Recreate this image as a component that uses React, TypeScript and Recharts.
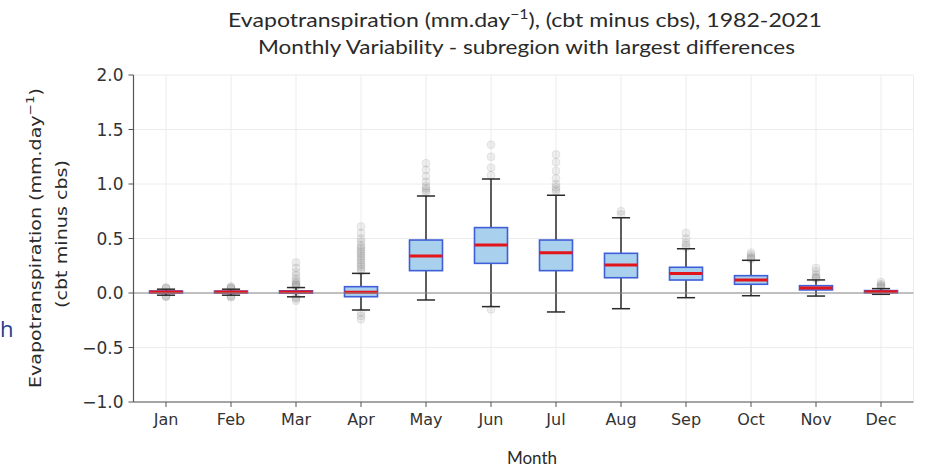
import React from "react";
import {
  ComposedChart,
  Bar,
  XAxis,
  YAxis,
  CartesianGrid,
  ReferenceLine,
} from "recharts";

const months = ["Jan", "Feb", "Mar", "Apr", "May", "Jun", "Jul", "Aug", "Sep", "Oct", "Nov", "Dec"];
const whiskerLow = [-0.02, -0.02, -0.035, -0.156, -0.064, -0.125, -0.174, -0.144, -0.043, -0.025, -0.028, -0.012];
const q1 = [0.0, 0.0, -0.002, -0.034, 0.205, 0.272, 0.205, 0.14, 0.119, 0.08, 0.028, 0.002];
const median = [0.01, 0.009, 0.01, 0.006, 0.34, 0.44, 0.37, 0.257, 0.18, 0.119, 0.045, 0.012];
const q3 = [0.018, 0.017, 0.02, 0.058, 0.486, 0.6, 0.486, 0.364, 0.236, 0.159, 0.067, 0.022];
const whiskerHigh = [0.035, 0.035, 0.05, 0.18, 0.89, 1.046, 0.896, 0.69, 0.406, 0.3, 0.12, 0.04];
const outliers: number[][] = [
  [0.04, 0.045, 0.05, -0.025, -0.03, -0.035],
  [0.04, 0.045, 0.05, 0.06, -0.025, -0.03, -0.04],
  [0.06, 0.07, 0.08, 0.09, 0.11, 0.13, 0.16, 0.19, 0.23, 0.28, -0.04, -0.05, -0.07],
  [0.2, 0.22, 0.24, 0.26, 0.28, 0.3, 0.32, 0.34, 0.36, 0.38, 0.4, 0.42, 0.44, 0.47, 0.5, 0.55, 0.61, -0.18, -0.21, -0.24],
  [0.92, 0.94, 0.96, 0.98, 1.02, 1.07, 1.13, 1.19],
  [1.08, 1.15, 1.25, 1.36, -0.15],
  [0.93, 0.95, 0.97, 1.0, 1.05, 1.12, 1.2, 1.27],
  [0.72, 0.75],
  [0.42, 0.44, 0.46, 0.5, 0.55],
  [0.31, 0.32, 0.33, 0.35, 0.37],
  [0.13, 0.14, 0.15, 0.17, 0.2, 0.23],
  [0.05, 0.06, 0.07, 0.08, 0.1],
];
const yTicks = [-1, -0.5, 0, 0.5, 1, 1.5, 2];
const titleLine1 = "Evapotranspiration (mm.day";
const titleSup = "−1";
const titleLine1End = "), (cbt minus cbs), 1982-2021";
const titleLine2 = "Monthly Variability - subregion with largest differences";
const yLabel1 = "Evapotranspiration (mm.day";
const yLabel1End = ")";
const yLabel2 = "(cbt minus cbs)";
const xLabel = "Month";
const strayText = "h";

const data = months.map((m, i) => ({
  month: m,
  lo: whiskerLow[i],
  q1: q1[i],
  med: median[i],
  q3: q3[i],
  hi: whiskerHigh[i],
  out: outliers[i],
}));

const FONT = "'DejaVu Sans', sans-serif";
const TITLE_FONT = "Lato, 'Open Sans', sans-serif";

const BoxShape = (props: any) => {
  const { x, y, width, height, payload } = props;
  if (!payload) return null;
  const top = Math.min(y, y + height);
  const h = Math.abs(height);
  const ppu = h / (payload.hi - payload.lo);
  const py = (v: number) => top + (payload.hi - v) * ppu;
  const cx = x + width / 2;
  const capW = width * 0.55;
  return (
    <g>
      {payload.out.map((v: number, k: number) => (
        <circle key={k} cx={cx} cy={py(v)} r={4} fill="#555" fillOpacity={0.1} stroke="#555" strokeOpacity={0.1} />
      ))}
      <line x1={cx} x2={cx} y1={py(payload.hi)} y2={py(payload.q3)} stroke="#2a2a2a" strokeWidth={1.5} />
      <line x1={cx} x2={cx} y1={py(payload.q1)} y2={py(payload.lo)} stroke="#2a2a2a" strokeWidth={1.5} />
      <line x1={cx - capW / 2} x2={cx + capW / 2} y1={py(payload.hi)} y2={py(payload.hi)} stroke="#2a2a2a" strokeWidth={1.5} />
      <line x1={cx - capW / 2} x2={cx + capW / 2} y1={py(payload.lo)} y2={py(payload.lo)} stroke="#2a2a2a" strokeWidth={1.5} />
      <rect
        x={x}
        y={py(payload.q3)}
        width={width}
        height={Math.max(py(payload.q1) - py(payload.q3), 0.5)}
        fill="#a9d1ee"
        stroke="#3f5fd8"
        strokeWidth={1.6}
      />
      <line x1={x} x2={x + width} y1={py(payload.med)} y2={py(payload.med)} stroke="#e3151c" strokeWidth={3} />
    </g>
  );
};

export default function App() {
  return (
    <div style={{ position: "absolute", left: 0, top: 0, width: 925, height: 468, background: "#fff" }}>
      <ComposedChart
        width={925}
        height={468}
        data={data}
        margin={{ top: 75, right: 11.5, bottom: 36, left: 0 }}
        barSize={33}
      >
        <CartesianGrid xAxisId="bottom" yAxisId="left" stroke="#ececec" strokeWidth={1} />
        <XAxis
          xAxisId="bottom"
          dataKey="month"
          height={30}
          tickSize={5}
          tickMargin={7}
          stroke="#555"
          tick={{ fill: "#333", fontSize: 16, fontFamily: FONT }}
          tickLine={{ stroke: "#555" }}
          axisLine={{ stroke: "#555", strokeWidth: 1.2 }}
        />
        <XAxis xAxisId="top" dataKey="month" orientation="top" height={0} tick={false} tickLine={false} axisLine={{ stroke: "#555", strokeWidth: 1.2 }} />
        <YAxis
          yAxisId="left"
          width={133.5}
          domain={[-1, 2]}
          ticks={yTicks}
          allowDataOverflow
          tickSize={5}
          tickMargin={5}
          tickFormatter={(v: number) => (v < 0 ? "−" : "") + Math.abs(v).toFixed(1)}
          tick={{ fill: "#333", fontSize: 17, fontFamily: FONT }}
          tickLine={{ stroke: "#555" }}
          axisLine={{ stroke: "#555", strokeWidth: 1.2 }}
        />
        <YAxis yAxisId="right" orientation="right" width={0} domain={[-1, 2]} tick={false} tickLine={false} axisLine={{ stroke: "#555", strokeWidth: 1.2 }} />
        <ReferenceLine xAxisId="bottom" yAxisId="left" y={0} stroke="#8a8a8a" strokeWidth={1.2} />
        <Bar
          xAxisId="bottom"
          yAxisId="left"
          dataKey={(d: any) => [d.lo, d.hi]}
          shape={BoxShape}
          isAnimationActive={false}
        />
      </ComposedChart>
      <svg width={925} height={468} style={{ position: "absolute", left: 0, top: 0, pointerEvents: "none" }}>
        <g fill="#2a2a2a">
          <text x={228} y={27} fontSize={19} fontFamily={TITLE_FONT} textLength={594} lengthAdjust="spacingAndGlyphs">
            {titleLine1}
            <tspan dy={-8} fontSize={13}>{titleSup}</tspan>
            <tspan dy={8}>{titleLine1End}</tspan>
          </text>
          <text x={258} y={54} fontSize={19} fontFamily={TITLE_FONT} textLength={537} lengthAdjust="spacingAndGlyphs">{titleLine2}</text>
          <text x={532} y={464} fontSize={17} fontFamily={TITLE_FONT} textAnchor="middle">{xLabel}</text>
          <text transform="translate(41,388) rotate(-90)" fontSize={15.5} fontFamily={FONT} textLength={300} lengthAdjust="spacingAndGlyphs">
            {yLabel1}
            <tspan dy={-7} fontSize={11}>{titleSup}</tspan>
            <tspan dy={7}>{yLabel1End}</tspan>
          </text>
          <text transform="translate(67,308) rotate(-90)" fontSize={15.5} fontFamily={FONT} textLength={148} lengthAdjust="spacingAndGlyphs">{yLabel2}</text>
        </g>
        <text x={0} y={337} fontSize={22} fill="#23408e" fontFamily="'Open Sans', sans-serif">{strayText}</text>
      </svg>
    </div>
  );
}
